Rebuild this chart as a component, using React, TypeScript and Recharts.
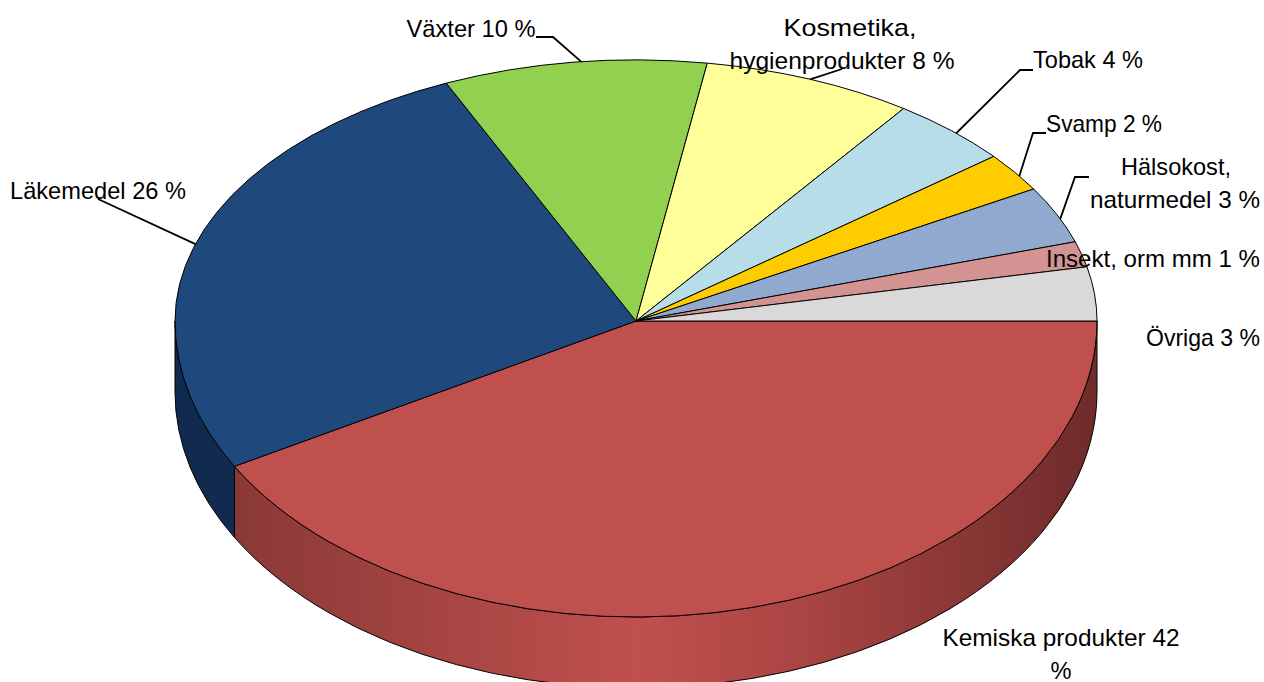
import { PieChart, Pie } from 'recharts';

const categories = [
  'Kemiska produkter',
  'Läkemedel',
  'Växter',
  'Kosmetika, hygienprodukter',
  'Tobak',
  'Svamp',
  'Hälsokost, naturmedel',
  'Insekt, orm mm',
  'Övriga',
];
const shares = [41.83, 26.42, 9.22, 7.39, 4.28, 2.42, 3.53, 1.58, 3.33];
const labelLines = [
  ['Kemiska produkter 42', '%'],
  ['Läkemedel 26 %'],
  ['Växter 10 %'],
  ['Kosmetika,', 'hygienprodukter 8 %'],
  ['Tobak 4 %'],
  ['Svamp 2 %'],
  ['Hälsokost,', 'naturmedel 3 %'],
  ['Insekt, orm mm 1 %'],
  ['Övriga 3 %'],
];
const colors = ['#C0504D', '#1F497D', '#92D050', '#FFFF99', '#B7DDE8', '#FFCC00', '#90AACF', '#D29392', '#D9D9D9'];
const wallFills = ['url(#redWall)', '#112B50'];

// layout, kept apart from the values
const CX = 636;
const CY = 321;
const RX = 461;
const RY_TOP = 261; // the pie is drawn in perspective, back half is flatter
const RY_BOTTOM = 296;
const DEPTH = 71;
const FONT_SIZE = 24;
const LINE_HEIGHT = 33;

// one centre x per line, first baseline per label
const labelCentres = [[1061, 1061], [98], [471], [850, 842], [1088], [1104], [1176, 1175], [1153], [1203]];
const labelBaselines = [646, 199, 37, 36, 68, 132, 175, 267, 346];
// the reference font runs a little wider or narrower per line, so fit each line
const labelWidths = [[237, 21], [176], [129], [133, 225], [110], [116], [110, 170], [214], [114]];

// elbow points of the leader lines, from the label towards the rim
const leaders: (number[][] | null)[] = [
  null,
  [[98, 199]],
  [[536, 37], [553, 37]],
  [[842, 69]],
  [[1033, 70], [1020, 70]],
  [[1046, 133], [1033, 133]],
  [[1089, 177], [1075, 177]],
  null,
  null,
];
// degrees between the slice middle and where the leader meets the rim
const leaderNudge = [0, -1, 0.9, 0, 0.8, 1, 1, 0, 0];

const chartData = categories.map((name, i) => ({ name, value: shares[i], fill: colors[i] }));

// c = clockwise degrees from three o'clock
function rimPoint(c: number, dy = 0) {
  const a = (c * Math.PI) / 180;
  const s = Math.sin(a);
  return {
    x: CX + RX * Math.cos(a),
    y: CY + dy + s * (s >= 0 ? RY_BOTTOM : RY_TOP),
  };
}

function arcTo(c0: number, c1: number) {
  // split where the radius changes, at 180 degrees
  const stops = [c0];
  if (c0 < 180 && c1 > 180) stops.push(180);
  stops.push(c1);
  let d = '';
  for (let i = 1; i < stops.length; i++) {
    const to = stops[i];
    const ry = to <= 180 ? RY_BOTTOM : RY_TOP;
    const p = rimPoint(to);
    d += ` A ${RX} ${ry} 0 0 1 ${p.x} ${p.y}`;
  }
  return d;
}

function arcBack(to: number) {
  const p = rimPoint(to, DEPTH);
  return ` A ${RX} ${RY_BOTTOM} 0 0 0 ${p.x} ${p.y}`;
}

function EllipseSlice(props: any) {
  const c0 = Math.abs(props.startAngle);
  const c1 = Math.abs(props.endAngle);
  const start = rimPoint(c0);
  const top = `M ${CX} ${CY} L ${start.x} ${start.y}${arcTo(c0, c1)} Z`;

  let wall = null;
  if (c0 < 180) {
    const end = Math.min(c1, 180);
    const a = rimPoint(end, DEPTH);
    const d = `M ${start.x} ${start.y}${arcTo(c0, end)} L ${a.x} ${a.y}${arcBack(c0)} Z`;
    wall = <path d={d} fill={wallFills[props.index] || props.fill} stroke="#000" strokeWidth={1} />;
  }
  return (
    <g>
      {wall}
      <path d={top} fill={props.fill} stroke="#000" strokeWidth={1} strokeLinejoin="round" />
    </g>
  );
}

function renderLabel(props: any) {
  const lines = labelLines[props.index];
  return (
    <g key={props.index}>
      {lines.map((line, i) => (
        <text
          key={i}
          x={labelCentres[props.index][i]}
          y={labelBaselines[props.index] + i * LINE_HEIGHT}
          textAnchor="middle"
          fill="#000"
          stroke="none"
          fontFamily="'Liberation Sans', Arial, sans-serif"
          fontSize={FONT_SIZE}
          textLength={labelWidths[props.index][i]}
          lengthAdjust="spacingAndGlyphs"
        >
          {line}
        </text>
      ))}
    </g>
  );
}

function renderLeader(props: any) {
  const elbows = leaders[props.index];
  if (!elbows) return <g key={props.index} />;
  const rim = rimPoint(Math.abs(props.midAngle) + leaderNudge[props.index]);
  const pts = [...elbows, [rim.x, rim.y]].map((p) => p.join(',')).join(' ');
  return <polyline key={props.index} points={pts} fill="none" stroke="#000" strokeWidth={1.8} />;
}

export default function App() {
  return (
    <div style={{ position: 'absolute', left: 0, top: 0, width: 1264, height: 682, overflow: 'hidden', background: '#fff' }}>
      <PieChart width={1264} height={682} margin={{ top: 0, right: 0, bottom: 0, left: 0 }}>
        <defs>
          <linearGradient id="redWall" gradientUnits="userSpaceOnUse" x1={175} y1={0} x2={1096} y2={0}>
            <stop offset="0" stopColor="#6E2B2A" />
            <stop offset="0.065" stopColor="#8A3937" />
            <stop offset="0.5" stopColor="#C0504D" />
            <stop offset="0.68" stopColor="#AA4543" />
            <stop offset="1" stopColor="#6E2B2A" />
          </linearGradient>
        </defs>
        <Pie
          data={chartData}
          dataKey="value"
          nameKey="name"
          cx={CX}
          cy={CY}
          innerRadius={0}
          outerRadius={RX}
          startAngle={0}
          endAngle={-360}
          isAnimationActive={false}
          shape={EllipseSlice}
          label={renderLabel}
          labelLine={renderLeader}
        />
      </PieChart>
    </div>
  );
}
